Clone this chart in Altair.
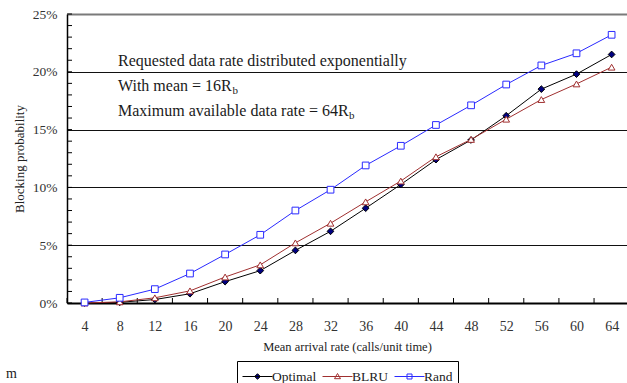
import altair as alt
import pandas as pd

# ---- data ----
rates = [4, 8, 12, 16, 20, 24, 28, 32, 36, 40, 44, 48, 52, 56, 60, 64]
optimal = [0.0, 0.06, 0.3, 0.8, 1.85, 2.8, 4.55, 6.2, 8.2, 10.25, 12.4, 14.1, 16.2, 18.5, 19.8, 21.5]
blru = [0.0, 0.1, 0.45, 1.05, 2.25, 3.3, 5.2, 6.9, 8.75, 10.55, 12.65, 14.15, 15.9, 17.6, 18.95, 20.4]
rand = [0.05, 0.45, 1.2, 2.55, 4.2, 5.9, 8.0, 9.8, 11.9, 13.6, 15.4, 17.1, 18.9, 20.55, 21.6, 23.2]

series = ["Optimal", "BLRU", "Rand"]
line_colors = ["#000000", "#A03030", "#2A2AFF"]
marker_fills = ["#000080", "#FFFFFF", "#FFFFFF"]
marker_shapes = ["diamond", "triangle-up", "square"]
legend_paths = [
    "M-1.5,0H1.5M0,-0.28L0.28,0L0,0.28L-0.28,0Z",
    "M-1.5,0H1.5M0,-0.3L0.3,0.22L-0.3,0.22Z",
    "M-1.5,0H1.5M-0.25,-0.25H0.25V0.25H-0.25Z",
]

y_ticks = [0, 5, 10, 15, 20, 25]
x_minor = [2, 6, 10, 14, 18, 22, 26, 30, 34, 38, 42, 46, 50, 54, 58, 62]
y_minor = list(range(0, 26))

notes = [
    "Requested data rate distributed exponentially",
    "With mean = 16R",
    "Maximum available data rate = 64R",
]
sub = "b"

FONT = "Liberation Serif"

rows = []
for name, vals in zip(series, [optimal, blru, rand]):
    for r, v in zip(rates, vals):
        rows.append({"rate": r, "value": v, "series": name})
df = pd.DataFrame(rows)

xscale = alt.Scale(domain=[2, 65.75], nice=False, zero=False)
yscale = alt.Scale(domain=[0, 25], nice=False)

xaxis = alt.Axis(
    values=rates, ticks=False, grid=False, labelPadding=16,
    title="Mean arrival rate (calls/unit time)", titleFontSize=12.5,
    titleFontWeight="normal", titleColor="#222", titleFont=FONT,
    titlePadding=7, labelFontSize=14, labelColor="#333", labelFont=FONT,
    domainColor="#000", domainWidth=2,
)
yaxis = alt.Axis(
    values=y_ticks, ticks=False, grid=True,
    gridColor={"condition": {"test": "datum.value === 25", "value": "#7a7a7a"}, "value": "#111111"},
    gridWidth={"condition": {"test": "datum.value === 25", "value": 2}, "value": 1},
    labelExpr="datum.value + '%'", labelPadding=10,
    title="Blocking probability", titleFontSize=13, titleFont=FONT,
    titleFontWeight="normal", titleColor="#222", titlePadding=6,
    labelFontSize=13.5, labelColor="#333", labelFont=FONT,
    domainColor="#000", domainWidth=1.5,
)

X = alt.X("rate:Q", scale=xscale, axis=xaxis)
Y = alt.Y("value:Q", scale=yscale, axis=yaxis)

base = alt.Chart(df)

lines = base.mark_line(strokeWidth=1).encode(
    x=X, y=Y,
    color=alt.Color("series:N", scale=alt.Scale(domain=series, range=line_colors), legend=None),
    order="rate:Q",
)

points = base.mark_point(opacity=1, strokeWidth=1, size=45).encode(
    x=X, y=Y,
    shape=alt.Shape("series:N", scale=alt.Scale(domain=series, range=marker_shapes), legend=None),
    stroke=alt.Stroke("series:N", scale=alt.Scale(domain=series, range=line_colors), legend=None),
    fill=alt.Fill("series:N", scale=alt.Scale(domain=series, range=marker_fills), legend=None),
)

xt = alt.Chart(pd.DataFrame({"rate": x_minor})).mark_rule(color="#000", strokeWidth=1).encode(
    x=X, y=alt.value(289), y2=alt.value(284)
)
yt = alt.Chart(pd.DataFrame({"value": y_minor})).mark_rule(color="#000", strokeWidth=1).encode(
    y=Y, x=alt.value(0), x2=alt.value(5)
)

one = pd.DataFrame({"a": [0]})
txt_props = dict(font=FONT, fontSize=16, color="#1a1a1a", align="left", baseline="alphabetic")
t1 = alt.Chart(one).mark_text(text=notes[0], **txt_props).encode(x=alt.value(51), y=alt.value(52))
t2 = alt.Chart(one).mark_text(text=notes[1], **txt_props).encode(x=alt.value(51), y=alt.value(77))
t3 = alt.Chart(one).mark_text(text=notes[2], **txt_props).encode(x=alt.value(51), y=alt.value(102))
sub_props = dict(font=FONT, fontSize=11, color="#1a1a1a", align="left", baseline="alphabetic")
s2 = alt.Chart(one).mark_text(text=sub, **sub_props).encode(x=alt.value(51 + 114.5), y=alt.value(80))
s3 = alt.Chart(one).mark_text(text=sub, **sub_props).encode(x=alt.value(51 + 231), y=alt.value(105))
stray = alt.Chart(one).mark_text(text="m", font=FONT, fontSize=14, color="#222", align="left",
                                  baseline="alphabetic").encode(x=alt.value(-61), y=alt.value(364))

leg = alt.Legend(
    title=None, orient="none", legendX=170, legendY=347, direction="horizontal",
    strokeColor="#000", fillColor="#fff", padding=5,
    labelFontSize=13.5, labelColor="#222", labelFont=FONT,
    symbolSize=400, symbolStrokeWidth=1, symbolOpacity=1, symbolOffset=5,
    labelOffset=4, columnPadding=3,
)
legdf = df.assign(label=df["series"])
legend_layer = alt.Chart(legdf).mark_point(opacity=1, strokeWidth=1).encode(
    x=X, y=Y,
    shape=alt.Shape("label:N", scale=alt.Scale(domain=series, range=legend_paths), legend=leg),
    stroke=alt.Stroke("label:N", scale=alt.Scale(domain=series, range=line_colors), legend=leg),
    fill=alt.Fill("label:N", scale=alt.Scale(domain=series, range=marker_fills), legend=leg),
).transform_filter("false")

chart = alt.layer(
    xt, yt, lines, points, t1, t2, t3, s2, s3, stray, legend_layer
).resolve_scale(
    shape="independent", stroke="independent", fill="independent"
).properties(
    width=560, height=289,
    padding={"left": 67, "top": 14, "right": 0, "bottom": 80},
    autosize=alt.AutoSizeParams(type="none"),
    background="white",
).configure_view(stroke=None)

chart.save("out.html", embed_options={"renderer": "svg", "actions": False})
